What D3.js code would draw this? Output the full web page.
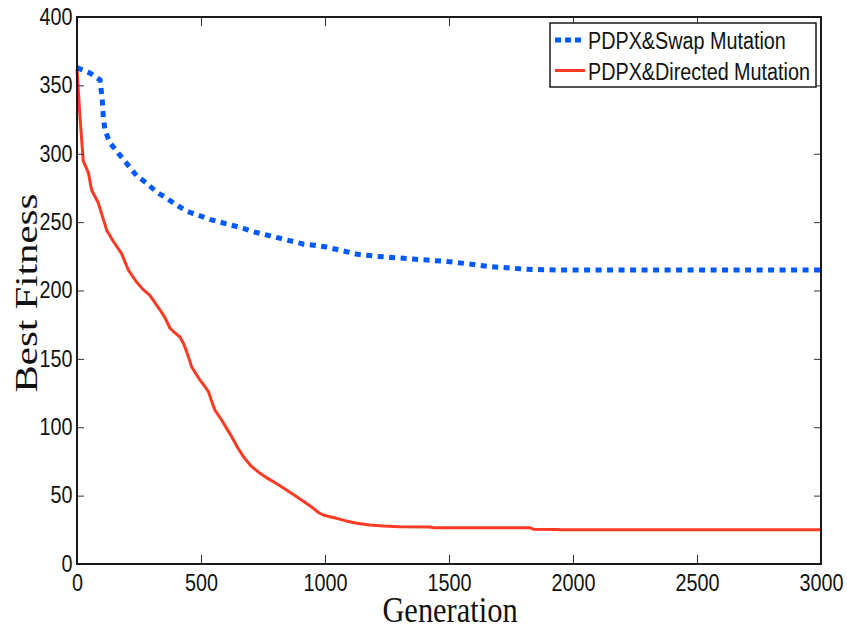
<!DOCTYPE html>
<html>
<head>
<meta charset="utf-8">
<script src="https://cdn.jsdelivr.net/npm/d3@7"></script>
<style>
  body { margin: 0; background: #fff; }
  svg { display: block; }
</style>
</head>
<body>
<div id="chart"></div>
<script>
"use strict"
// Data
var swapGen = [0, 52, 93, 102, 106, 113, 133, 166, 200, 240, 281, 321, 361, 402, 442, 536, 670, 711, 800, 912, 1000, 1060, 1130, 1208, 1355, 1504, 1600, 1665, 1706, 1813, 1900, 1950, 3000];
var swapFit = [363, 359, 354, 339, 327, 317, 308, 300.5, 293, 284, 278.5, 272, 267.5, 262.5, 258, 252, 245.5, 243, 239, 234, 232, 229.5, 226.5, 225, 223, 221, 219, 217.4, 217, 215.5, 215.2, 215, 215];
var directedGen = [0, 12, 25, 46, 59, 86, 120, 146, 180, 207, 241, 265, 294, 335, 355, 375, 395, 415, 430, 442, 452, 462, 480, 496, 515, 530, 545, 556, 583, 604, 624, 648, 671, 700, 738, 765, 792, 820, 845, 886, 920, 953, 975, 993, 1020, 1047, 1085, 1128, 1180, 1235, 1302, 1423, 1440, 1827, 1840, 1934, 1950, 3000];
var directedFit = [362, 327, 295, 286, 273.5, 264, 244, 236, 227, 215, 206, 201, 196.5, 185.7, 180, 172.4, 169, 166, 161, 155.3, 150, 144.3, 139, 134.5, 130, 126, 118, 112.6, 105.3, 99, 93, 85, 78.5, 72, 66.3, 63, 60.2, 57, 54.1, 49.2, 45, 40.7, 37.5, 35.8, 34.5, 33.4, 31.5, 29.8, 28.6, 27.8, 27.3, 27.1, 26.5, 26.5, 25.5, 25.2, 25, 25];
var seriesNames = ["PDPX&Swap Mutation", "PDPX&Directed Mutation"];
var xTicks = [0, 500, 1000, 1500, 2000, 2500, 3000];
var yTicks = [0, 50, 100, 150, 200, 250, 300, 350, 400];

var width = 847;
var height = 631;
var margin = {top: 17, right: 26, bottom: 67, left: 77};
var drawWidth = width - margin.left - margin.right;
var drawHeight = height - margin.top - margin.bottom;
var squeeze = 0.86; // tick text in the figure is narrow

var blue = "#0058ff";
var red = "#ff3a24";

var xScale = d3.scaleLinear().domain([0, 3000]).range([0, drawWidth]);
var yScale = d3.scaleLinear().domain([0, 400]).range([drawHeight, 0]);

var svg = d3.select("#chart").append("svg")
    .attr("width", width)
    .attr("height", height);

var g = svg.append("g")
    .attr("transform", "translate(" + margin.left + "," + margin.top + ")");

function zip(xs, ys) {
  return xs.map(function(x, i) { return [x, ys[i]]; });
}

var line = d3.line()
    .x(function(d) { return xScale(d[0]); })
    .y(function(d) { return yScale(d[1]); });

// lines
g.append("path")
    .datum(zip(directedGen, directedFit))
    .attr("fill", "none")
    .attr("stroke", red)
    .attr("stroke-width", 3)
    .attr("stroke-linejoin", "round")
    .attr("d", line);

g.append("path")
    .datum(zip(swapGen, swapFit))
    .attr("fill", "none")
    .attr("stroke", blue)
    .attr("stroke-width", 5)
    .attr("stroke-dasharray", "6,5.5")
    .attr("d", line);

function squeezeText(sel) {
  sel.selectAll("text")
      .attr("font-family", "'Liberation Sans', Arial, sans-serif")
      .attr("font-size", 23)
      .attr("fill", "#111")
      .attr("x", function() { return +d3.select(this).attr("x") / squeeze; })
      .attr("transform", "scale(" + squeeze + ",1)");
}

// axes, ticks pointing inward
var xAxis = g.append("g")
    .attr("transform", "translate(0," + drawHeight + ")")
    .call(d3.axisBottom(xScale).tickValues(xTicks).tickSize(-9).tickPadding(11).tickFormat(d3.format("d")));
xAxis.call(squeezeText);

var yAxis = g.append("g")
    .call(d3.axisLeft(yScale).tickValues(yTicks).tickSize(-7).tickPadding(4.5).tickFormat(d3.format("d")));
yAxis.call(squeezeText);

g.append("g")
    .call(d3.axisTop(xScale).tickValues(xTicks).tickSize(-9).tickFormat(""));
g.append("g")
    .attr("transform", "translate(" + drawWidth + ",0)")
    .call(d3.axisRight(yScale).tickValues(yTicks).tickSize(-7).tickFormat(""));

g.selectAll(".domain").remove();
g.selectAll(".tick line").attr("stroke", "#333").attr("stroke-width", 1);

g.append("rect")
    .attr("width", drawWidth)
    .attr("height", drawHeight)
    .attr("fill", "none")
    .attr("stroke", "#1a1a1a")
    .attr("stroke-width", 2);

// legend
var legend = svg.append("g").attr("transform", "translate(550,23)");
legend.append("rect")
    .attr("width", 266)
    .attr("height", 64)
    .attr("fill", "#fff")
    .attr("stroke", "#1a1a1a")
    .attr("stroke-width", 1.5);

var legendStyles = [
  {color: blue, w: 5, dash: "6,4"},
  {color: red, w: 3, dash: null}
];
seriesNames.forEach(function(name, i) {
  var ly = 17 + i * 30.5;
  legend.append("line")
      .attr("x1", 5).attr("x2", 35)
      .attr("y1", ly).attr("y2", ly)
      .attr("stroke", legendStyles[i].color)
      .attr("stroke-width", legendStyles[i].w)
      .attr("stroke-dasharray", legendStyles[i].dash);
  legend.append("text")
      .attr("transform", "translate(38," + (ly + 9) + ") scale(" + squeeze + ",1)")
      .attr("font-family", "'Liberation Sans', Arial, sans-serif")
      .attr("font-size", 23)
      .attr("fill", "#111")
      .text(name);
});

// axis titles
svg.append("text")
    .attr("transform", "translate(450,622) scale(0.87,1)")
    .attr("text-anchor", "middle")
    .attr("font-family", "'Liberation Serif', 'Times New Roman', serif")
    .attr("font-size", 35)
    .attr("fill", "#111")
    .text("Generation");

svg.append("text")
    .attr("transform", "translate(37,293) rotate(-90) scale(1.32,1)")
    .attr("text-anchor", "middle")
    .attr("font-family", "'Liberation Serif', 'Times New Roman', serif")
    .attr("font-size", 31)
    .attr("fill", "#111")
    .text("Best Fitness");
</script>
</body>
</html>
